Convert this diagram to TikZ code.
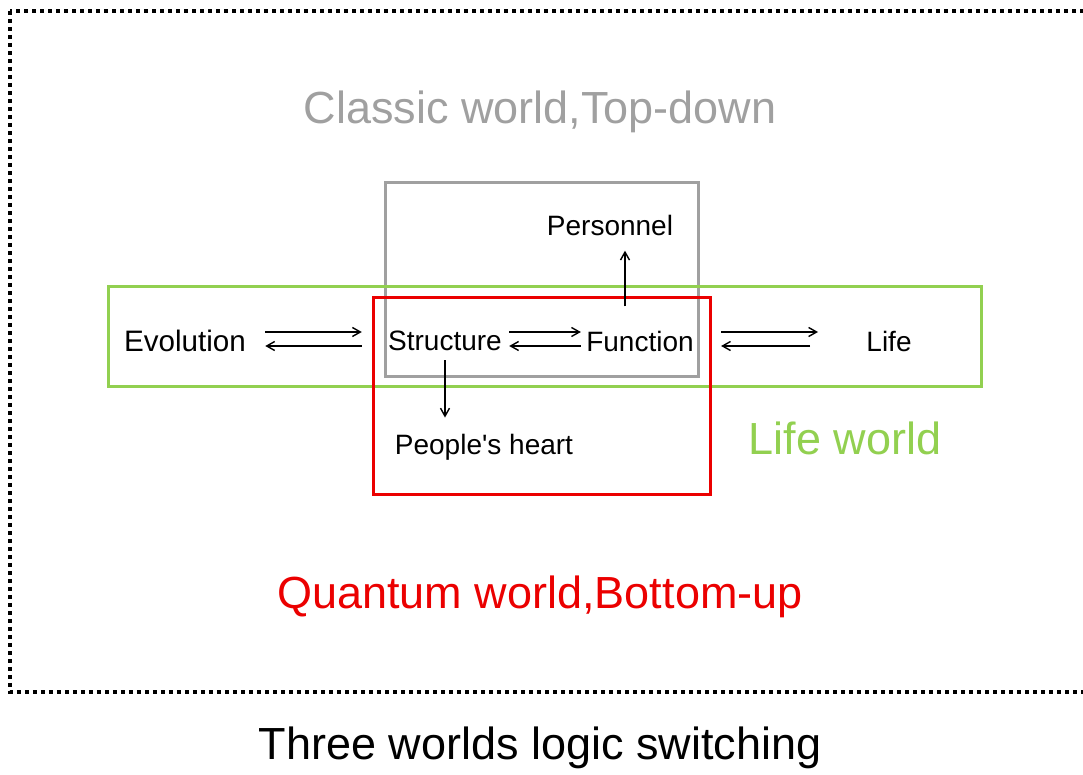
\documentclass[tikz,border=0pt]{standalone}
\usepackage{fontspec}
\setmainfont{Liberation Sans}
\usepackage{tikz}
\usetikzlibrary{arrows,arrows.meta,calc,positioning}
\definecolor{classicgray}{RGB}{160,160,160}
\definecolor{lifegreen}{RGB}{146,208,80}
\definecolor{quantumred}{RGB}{235,0,0}

\begin{document}
\begin{tikzpicture}[x=0.5pt,y=-0.5pt,
word/.style={font=\fontsize{14}{16}\selectfont,inner sep=0pt},
world/.style={font=\fontsize{22.5}{26}\selectfont,inner sep=0pt},
frame/.style={line width=1.5pt},
link/.style={-{Straight Barb[length=4pt,width=4.5pt]},line width=0.7pt},]
\useasboundingbox (0,0) rectangle (1083,775);
\draw[line width=1.8pt,dash pattern=on 2pt off 2pt] (10,11) rectangle (1110,692);

\draw[frame,classicgray] (385,183) rectangle (698,377);
\draw[frame,lifegreen] (108,287) rectangle (981,387);
\draw[frame,quantumred] (373,298) rectangle (710,495);

\node[world,text=classicgray] (classic) at (540,112) {Classic world,Top-down};
\node[world,text=lifegreen] (lifeworld) at (845,438) {Life world};
\node[world,text=quantumred] (quantum) at (540,597) {Quantum world,Bottom-up};
\node[world] (title) at (540,748) {Three worlds logic switching};

\node[word,font=\fontsize{14.8}{17}\selectfont] (evolution) at (185,341) {Evolution};
\node[word] (structure) at (445,341) {Structure};
\node[word] (function) at (640,341) {Function};
\node[word] (life) at (889,341) {Life};
\node[word] (personnel) at (610,225) {Personnel};
\node[word] (heart) at (484,447) {People\textquotesingle s heart};

\draw[link] ($(evolution.east)+(19,-9)$) -- ($(structure.west)+(-26,-9)$);
\draw[link] ($(structure.west)+(-26,5)$) -- ($(evolution.east)+(19,5)$);
\draw[link] ($(structure.east)+(7,-9)$) -- ($(function.west)+(-5,-9)$);
\draw[link] ($(function.west)+(-5,5)$) -- ($(structure.east)+(7,5)$);
\draw[link] ($(function.east)+(27,-9)$) -- ($(life.west)+(-48,-9)$);
\draw[link] ($(life.west)+(-56,5)$) -- ($(function.east)+(27,5)$);
\draw[link] ($(function.north)+(-15,-24)$) -- ($(personnel.south)+(15,15)$);
\draw[link] ($(structure.south)+(0,9)$) -- ($(structure.south |- heart.north)+(0,-16)$);
\end{tikzpicture}
\end{document}
